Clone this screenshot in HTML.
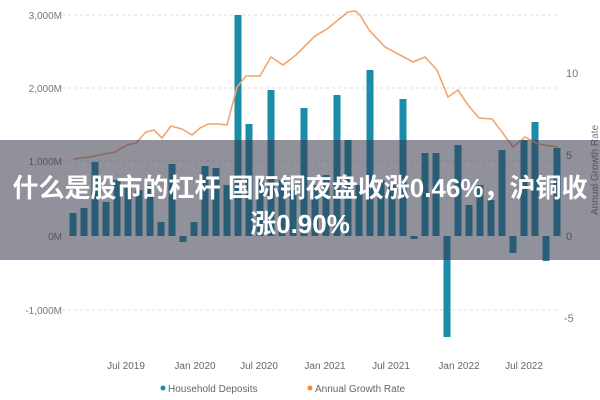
<!DOCTYPE html>
<html><head><meta charset="utf-8"><style>
body{margin:0;width:600px;height:400px;overflow:hidden;background:#fff;font-family:"Liberation Sans","Noto Sans CJK SC",sans-serif}
.t{position:absolute;left:0;width:600px;text-align:center;color:#fff;font-weight:bold;font-size:26px;white-space:nowrap;font-family:"Liberation Sans","Noto Sans CJK SC",sans-serif}
</style></head><body>
<svg width="600" height="400" style="position:absolute;left:0;top:0" font-family="Liberation Sans, sans-serif">
<g stroke="#ddd" stroke-dasharray="3,3" stroke-width="1">
<line x1="62" x2="560" y1="15" y2="15"/><line x1="62" x2="560" y1="88" y2="88"/>
<line x1="62" x2="560" y1="161" y2="161"/><line x1="62" x2="560" y1="310" y2="310"/>
</g>
<g font-size="10" fill="#777" text-anchor="end">
<text x="62" y="19">3,000M</text><text x="62" y="92">2,000M</text><text x="62" y="165">1,000M</text>
<text x="62" y="240">0M</text><text x="62" y="314">-1,000M</text>
</g>
<g font-size="11" fill="#777" text-anchor="start">
<text x="566" y="77">10</text><text x="566" y="159">5</text><text x="566" y="240">0</text><text x="564" y="322">-5</text>
</g>
<text transform="translate(598,170) rotate(-90)" font-size="10" fill="#777" text-anchor="middle">Annual Growth Rate</text>
<g fill="#1a8ca8" id="bars"></g>
<polyline fill="none" stroke="#f4a46e" stroke-width="1.6" points="73,159 90,157 104,154 115,152 127,145 136,143 146,132 154,130 162,138 171,126 182,129 192,135 200,128 208,124 218,124 227,125 237,87 246,76 260,76 271,57 283,65 296,55 306,45 315,36 327,29 338,20 348,12 355,11 360,15 369,30 385,47 400,55 413,62 425,57 437,70 448,97 458,90 468,105 479,118 492,119 502,132 513,147 525,137 538,144 558,147"/>
<g font-size="10" fill="#666" text-anchor="middle">
<text x="126" y="369">Jul 2019</text><text x="195" y="369">Jan 2020</text><text x="259" y="369">Jul 2020</text>
<text x="325" y="369">Jan 2021</text><text x="391" y="369">Jul 2021</text><text x="459" y="369">Jan 2022</text><text x="524" y="369">Jul 2022</text>
</g>
<circle cx="163" cy="388" r="2.5" fill="#1a8ca8"/><text x="168" y="392" font-size="10" fill="#666">Household Deposits</text>
<circle cx="310" cy="388" r="2.5" fill="#f08a3c"/><text x="315" y="392" font-size="10" fill="#666">Annual Growth Rate</text>
<rect x="0" y="140" width="600" height="120" fill="rgba(55,55,75,0.55)"/>
</svg>
<div class="t" style="top:168px">什么是股市的杠杆 国际铜夜盘收涨0.46%，沪铜收</div>
<div class="t" style="top:204px">涨0.90%</div>
<script>
var tops=[213,208,162,202,180,185,190,185,222,164,242,222,166,168,185,15,124,180,90,180,190,108,185,175,95,140,185,70,180,185,99,239,153,153,337,145,205,185,200,150,253,140,122,261,148];
var g=document.getElementById('bars'),s='';
tops.forEach(function(t,i){var x=73+11*i-3.5;var y=Math.min(t,236),h=Math.abs(236-t);if(h<3){h=3;}s+='<rect x="'+x+'" y="'+y+'" width="7" height="'+h+'"/>';});
g.innerHTML=s;
</script>
</body></html>
